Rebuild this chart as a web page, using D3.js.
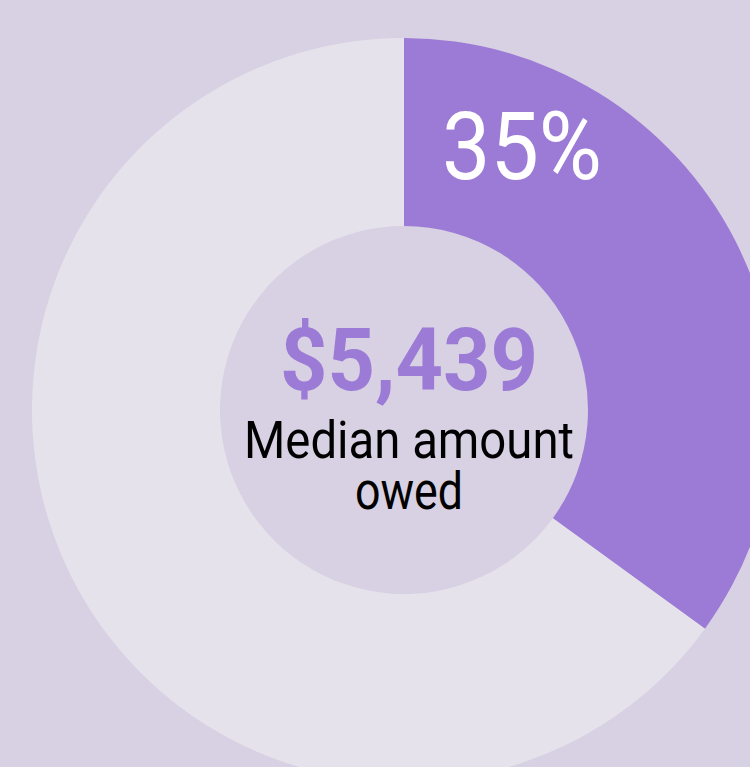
<!DOCTYPE html>
<html>
<head>
<meta charset="utf-8">
<script src="https://cdn.jsdelivr.net/npm/d3@7"></script>
<style>
  html, body { margin: 0; padding: 0; background: #d8d0e3; }
  svg { display: block; }
</style>
</head>
<body>
<div id="chart"></div>
<script>
var categories = ["Owes", "Rest"];
var shares = [35, 65];
var medianLabel = "$5,439";
var captionLines = ["Median amount", "owed"];

var width = 750;
var height = 767;
var cx = 404;
var cy = 410;
var outer = 372;
var inner = 184;
var color = d3.scaleOrdinal(categories, ["#9b7bd5", "#e6e2eb"]);
var format = d3.format(".0%");

var svg = d3.select("#chart").append("svg")
  .attr("width", width)
  .attr("height", height);

svg.append("rect").attr("width", width).attr("height", height).attr("fill", "#d8d0e3");

var g = svg.append("g").attr("transform", "translate(" + cx + "," + cy + ")");

var pie = d3.pie().sort(null);
var arc = d3.arc().innerRadius(inner).outerRadius(outer);
var arcs = pie(shares);

g.selectAll("path").data(arcs).enter().append("path")
  .attr("fill", function (d, i) { return color(categories[i]); })
  .attr("d", arc);

// percent label sits in the upper part of the first slice
g.append("text")
  .attr("x", 118)
  .attr("y", -231)
  .attr("text-anchor", "middle")
  .attr("font-family", "Roboto")
  .attr("font-weight", 400)
  .attr("font-size", 94)
  .attr("textLength", 160)
  .attr("lengthAdjust", "spacingAndGlyphs")
  .attr("fill", "#ffffff")
  .text(format(shares[0] / 100));

var center = svg.append("g").attr("transform", "translate(" + (cx + 5) + "," + cy + ")");

center.append("text")
  .attr("y", -20)
  .attr("text-anchor", "middle")
  .attr("font-family", "Roboto")
  .attr("font-weight", 700)
  .attr("font-size", 87)
  .attr("textLength", 258)
  .attr("lengthAdjust", "spacingAndGlyphs")
  .attr("fill", "#9b7bd5")
  .text(medianLabel);

var capWidths = [330, 108];
center.selectAll("text.cap").data(captionLines).enter().append("text")
  .attr("class", "cap")
  .attr("y", function (d, i) { return 48 + i * 51; })
  .attr("text-anchor", "middle")
  .attr("font-family", "Roboto")
  .attr("font-size", 51)
  .attr("textLength", function (d, i) { return capWidths[i]; })
  .attr("lengthAdjust", "spacingAndGlyphs")
  .attr("fill", "#000000")
  .text(function (d) { return d; });
</script>
</body>
</html>
